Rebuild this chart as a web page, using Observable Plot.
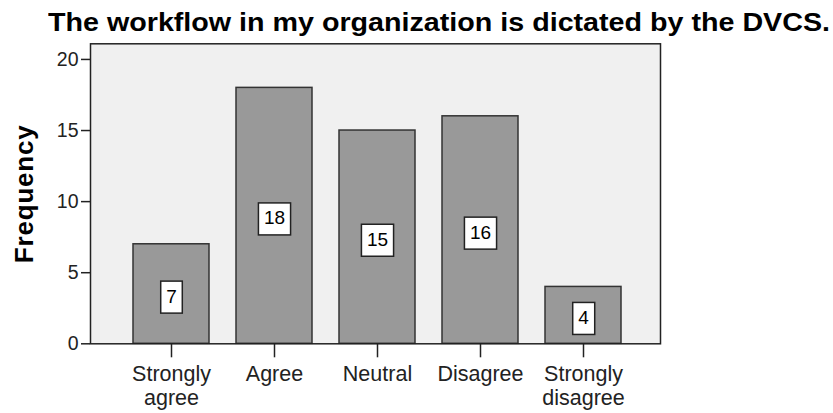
<!DOCTYPE html>
<html>
<head>
<meta charset="utf-8">
<script src="https://cdn.jsdelivr.net/npm/d3@7"></script>
<script src="https://cdn.jsdelivr.net/npm/@observablehq/plot@0.6"></script>
<style>
  html, body { margin: 0; padding: 0; background: #fff; }
  body { width: 833px; height: 413px; overflow: hidden; font-family: "Liberation Sans", Arial, sans-serif; }
  #title { position: relative; height: 40px; }
  #title span { position: absolute; left: 48px; top: 7px; font-weight: bold; font-size: 26.5px; color: #000; white-space: nowrap; line-height: normal; transform-origin: 0 0; }
  svg { display: block; }
  .ylab text { letter-spacing: 0.8px; }
</style>
</head>
<body>
<div id="title"><span>The workflow in my organization is dictated by the DVCS.</span></div>
<div id="chart"></div>
<script>
const categories = ["Strongly agree", "Agree", "Neutral", "Disagree", "Strongly disagree"];
const frequencies = [7, 18, 15, 16, 4];
const yTicks = [0, 5, 10, 15, 20];
const xTickLabels = ["Strongly\nagree", "Agree", "Neutral", "Disagree", "Strongly\ndisagree"];
const yLabel = "Frequency";

const data = categories.map((c, i) => ({category: c, value: frequencies[i]}));

const chart = Plot.plot({
  width: 833,
  height: 373,
  marginLeft: 90,
  marginRight: 173,
  marginTop: 3.3,
  marginBottom: 69.7,
  style: {fontFamily: "'Liberation Sans', Arial, sans-serif", color: "#000", background: "transparent"},
  x: {domain: categories, paddingInner: 0.266, paddingOuter: 0.387, align: 0.525},
  y: {domain: [0, 21.1]},
  marks: [
    Plot.frame({fill: "#f0f0f0", stroke: null}),
    Plot.barY(data, {x: "category", y: "value", fill: "#999999", stroke: "#333", strokeWidth: 1.5}),
    Plot.frame({stroke: "#222", strokeWidth: 1.5}),
    Plot.axisY({ticks: yTicks, tickSize: 9, tickPadding: 3, fontSize: 19.5, label: null, stroke: "#222", strokeWidth: 1.5, fill: "#222"}),
    Plot.axisX({tickSize: 14, tickPadding: 7, fontSize: 21.5, label: null, lineHeight: 1.08, stroke: "#222", strokeWidth: 1.5, fill: "#222",
      tickFormat: (d) => xTickLabels[categories.indexOf(d)]}),
    Plot.text([yLabel], {frameAnchor: "left", textAnchor: "middle", rotate: -90, dx: -66, fontSize: 26, fontWeight: "bold", fill: "#000", className: "ylab"}),
    Plot.text(data, {x: "category", y: (d) => d.value / 2, text: (d) => String(d.value), fontSize: 19, fill: "#000", dy: 2.5, className: "vlabel"})
  ]
});
document.getElementById("chart").appendChild(chart);

// Stretch title to the reference's width
const t = document.querySelector("#title span");
const tw = t.getBoundingClientRect().width;
t.style.transform = `scaleX(${782 / tw})`;

// White label boxes behind value labels, sized from the rendered text
const svg = d3.select(chart);
svg.selectAll(".vlabel text").each(function() {
  const b = this.getBBox();
  const w = b.width + 11, h = 32;
  const cx = b.x + b.width / 2, cy = b.y + b.height / 2;
  d3.select(this.parentNode).insert("rect", () => this)
    .attr("x", cx - w / 2).attr("y", cy - h / 2 + 1)
    .attr("width", w).attr("height", h)
    .attr("fill", "#fff").attr("stroke", "#222").attr("stroke-width", 1.5)
    .attr("transform", this.getAttribute("transform"));
});
</script>
</body>
</html>
